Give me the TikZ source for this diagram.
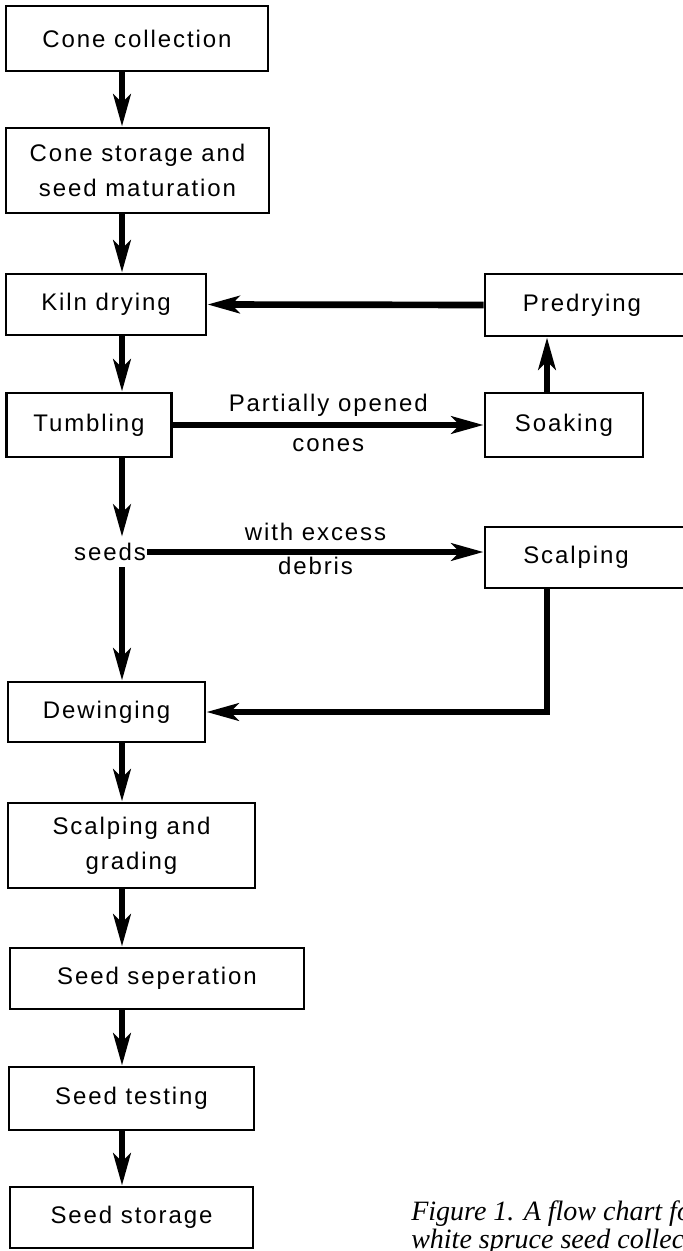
\documentclass[tikz,border=0pt]{standalone}
\usepackage{fontspec}
\setmainfont{Liberation Sans}[LetterSpace=8]
\newfontfamily\capfont{Liberation Serif}
\usetikzlibrary{arrows.meta}

\begin{document}
\begin{tikzpicture}[x=0.75pt,y=-0.75pt]
	\tikzstyle{every node}+=[inner sep=0pt, font=\fontsize{18}{26}\selectfont]
	\tikzstyle{stage}=[draw=black, line width=2.2pt, align=center]
	\tikzstyle{flow}=[black, line width=5pt, -{Stealth[length=24pt,width=13pt,inset=6pt]}]
	\useasboundingbox (0,0) rectangle (682,1251);
	\coordinate (spine) at (122,0);
	\coordinate (rcol) at (547,0);
	% main column
	\node [stage, minimum width=196.5pt, minimum height=48.75pt] (collect) at (137,38.5) {Cone collection};
	\node [stage, minimum width=197.25pt, minimum height=63.75pt] (storage) at (137.5,170.5) {Cone storage and\\seed maturation};
	\node [stage, minimum width=150pt, minimum height=45.75pt] (kiln) at (106,304.5) {Kiln drying};
	\node [stage, minimum width=123.75pt, minimum height=48pt] (tumbl) at (89,425) {Tumbling};
	\node [minimum height=22.5pt, inner xsep=1pt] (seeds) at (110,552) {seeds};
	\node [stage, minimum width=147.75pt, minimum height=45pt] (dewing) at (106.5,712) {Dewinging};
	\node [stage, minimum width=185.25pt, minimum height=63.75pt] (grading) at (131.5,845.5) {Scalping and\\grading};
	\node [stage, minimum width=220.5pt, minimum height=45.75pt] (separ) at (157,978.5) {Seed seperation};
	\node [stage, minimum width=183.75pt, minimum height=47.25pt] (testing) at (131.5,1098.5) {Seed testing};
	\node [stage, minimum width=182.25pt, minimum height=45.75pt] (store) at (131.5,1217.5) {Seed storage};
	% right column (boxes run off the right edge)
	\node [stage, minimum width=157.5pt, minimum height=46.5pt] (predry) at (590,305) {Predrying\hspace*{12pt}};
	\node [stage, minimum width=118.5pt, minimum height=48pt] (soak) at (564,425) {Soaking};
	\node [stage, minimum width=157.5pt, minimum height=45.75pt] (scalp) at (590,557.5) {Scalping\hspace*{21pt}};
	% caption
	\node [anchor=north west, align=left, font=\capfont\itshape\fontsize{21}{21}\selectfont] (caption) at (411,1201) {Figure 1. A flow chart for\\white spruce seed collection};
	% connectors
	\draw [flow] (collect.south -| spine) -- (storage.north -| spine);
	\draw [flow] (storage.south -| spine) -- (kiln.north -| spine);
	\draw [flow] (kiln.south -| spine) -- (tumbl.north -| spine);
	\draw [flow] (tumbl.south -| spine) -- (seeds.north -| spine);
	\draw [flow] (seeds.south -| spine) -- (dewing.north -| spine);
	\draw [flow] (dewing.south -| spine) -- (grading.north -| spine);
	\draw [flow] (grading.south -| spine) -- (separ.north -| spine);
	\draw [flow] (separ.south -| spine) -- (testing.north -| spine);
	\draw [flow] (testing.south -| spine) -- (store.north -| spine);
	\draw [flow] (tumbl.east) -- (soak.west)
		node [midway, above=4pt] {Partially opened}
		node [midway, below=8pt] {cones};
	\draw [flow] (soak.north -| rcol) -- (predry.south -| rcol);
	\draw [flow] (predry.west) -- (kiln.east);
	\draw [flow] (seeds.east) -- (seeds.east -| scalp.west)
		node [midway, above=6pt] {with excess}
		node [midway, below=1.5pt] {debris};
	\draw [flow] (scalp.south -| rcol) |- (dewing.east);
\end{tikzpicture}
\end{document}
